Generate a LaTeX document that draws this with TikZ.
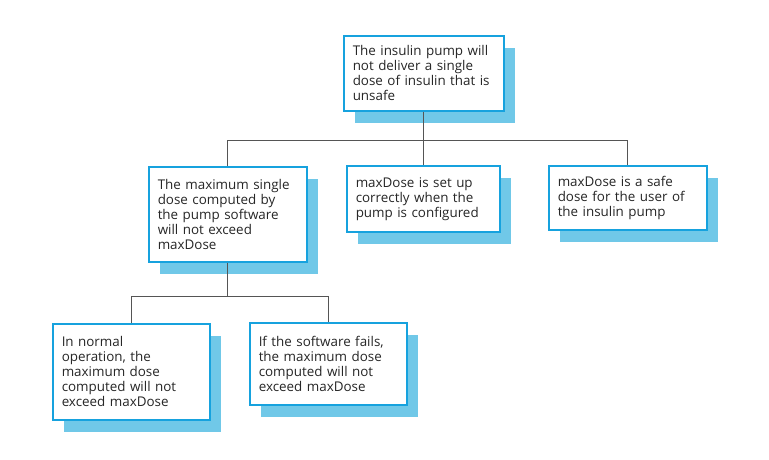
\documentclass[tikz,border=0pt]{standalone}
\usepackage{fontspec}
\setmainfont{Open Sans}
\usetikzlibrary{shadows}
\definecolor{boxline}{RGB}{22,162,222}
\definecolor{boxshade}{RGB}{112,200,232}
\definecolor{linkgrey}{RGB}{85,85,85}
\begin{document}
\begin{tikzpicture}[x=1pt, y=-1pt,
  goal/.style = {draw=boxline, line width=1.5pt, fill=white, text=black!85,
    anchor=north west, align=left, inner xsep=9pt, inner ysep=0pt,
    font=\fontsize{13.4}{15}\selectfont,
    drop shadow={shadow xshift=11pt, shadow yshift=-12pt, fill=boxshade, draw=none, opacity=1}},
  link/.style = {draw=linkgrey, line width=0.8pt}]
  \useasboundingbox (0,0) rectangle (769,459);
  \node[goal, text width=142pt, minimum height=75pt] (top) at (343,35)
    {The insulin pump will\\not deliver a single\\dose of insulin that is\\unsafe};
  \node[goal, text width=140pt, minimum height=95pt] (maxsingle) at (148,166)
    {The maximum single\\dose computed by\\the pump software\\will not exceed\\maxDose};
  \node[goal, text width=135pt, minimum height=66pt] (setup) at (346,165)
    {maxDose is set up\\correctly when the\\pump is configured};
  \node[goal, text width=140pt, minimum height=64pt] (safe) at (548,165)
    {maxDose is a safe\\dose for the user of\\the insulin pump};
  \node[goal, text width=139pt, minimum height=96pt] (normal) at (52,323)
    {In normal\\operation, the\\maximum dose\\computed will not\\exceed maxDose};
  \node[goal, text width=139pt, minimum height=82pt] (fails) at (249,322)
    {If the software fails,\\the maximum dose\\computed will not\\exceed maxDose};
  % first level
  \draw[link] (top.south) -- ++(0,29) coordinate (j1);
  \draw[link] (maxsingle.north) |- (safe.north |- j1) -- (safe.north);
  \draw[link] (setup.north) -- (setup.north |- j1);
  % second level
  \draw[link] (maxsingle.south) -- ++(0,34) coordinate (j2);
  \draw[link] (normal.north) |- (fails.north |- j2) -- (fails.north);
\end{tikzpicture}
\end{document}
